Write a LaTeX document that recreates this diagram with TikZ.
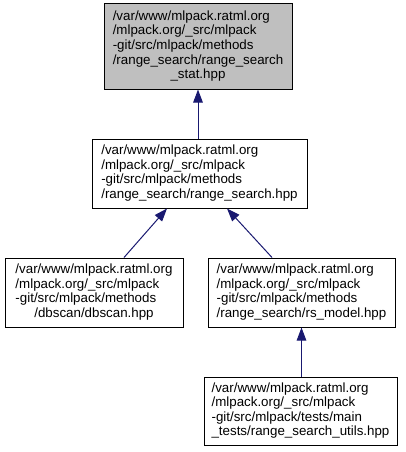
\documentclass[tikz,border=0pt]{standalone}
\usepackage{fontspec}
\setmainfont{Liberation Sans}
\usetikzlibrary{arrows.meta}
\definecolor{edgeblue}{HTML}{191970}
\definecolor{nodegray}{HTML}{BFBFBF}
\newcommand{\flines}[1]{\begin{tabular}{@{}l@{}}#1\end{tabular}}
\newcommand{\ctrline}[1]{\multicolumn{1}{@{}c@{}}{#1}}
\begin{document}
\begin{tikzpicture}[x=1pt,y=-1pt,
  box/.style={draw=black,line width=1pt,inner sep=0pt,rectangle,fill=white,
    font=\fontsize{13.33}{14.6}\selectfont},
  arr/.style={draw=edgeblue,line width=1pt,
    -{Triangle[length=13pt,width=9.5pt,fill=edgeblue]}}]
\useasboundingbox (0,0) rectangle (405,452);
\node[box,fill=nodegray,minimum width=188pt,minimum height=85pt] (top) at (198,46.5)
  {\flines{/var/www/mlpack.ratml.org\\/mlpack.org/\_src/mlpack\\-git/src/mlpack/methods\\/range\_search/range\_search\\\ctrline{\_stat.hpp}}};
\node[box,minimum width=215pt,minimum height=69pt] (mid) at (199.5,173.5)
  {\flines{/var/www/mlpack.ratml.org\\/mlpack.org/\_src/mlpack\\-git/src/mlpack/methods\\/range\_search/range\_search.hpp}};
\node[box,minimum width=178pt,minimum height=69pt] (bl) at (94,292.5)
  {\flines{/var/www/mlpack.ratml.org\\/mlpack.org/\_src/mlpack\\-git/src/mlpack/methods\\\ctrline{/dbscan/dbscan.hpp}}};
\node[box,minimum width=187pt,minimum height=69pt] (br) at (301.5,292.5)
  {\flines{/var/www/mlpack.ratml.org\\/mlpack.org/\_src/mlpack\\-git/src/mlpack/methods\\/range\_search/rs\_model.hpp}};
\node[box,minimum width=193pt,minimum height=68pt] (bb) at (300.5,411)
  {\flines{/var/www/mlpack.ratml.org\\/mlpack.org/\_src/mlpack\\-git/src/mlpack/tests/main\\\_tests/range\_search\_utils.hpp}};
\draw[arr] (mid.north -| top.south) -- (top.south);
\draw[arr] ([xshift=30pt]bl.north) -- ([xshift=-32.5pt]mid.south);
\draw[arr] ([xshift=-29.5pt]br.north) -- ([xshift=27.5pt]mid.south);
\draw[arr] (bb.north -| br.south) -- (br.south);
\end{tikzpicture}
\end{document}
